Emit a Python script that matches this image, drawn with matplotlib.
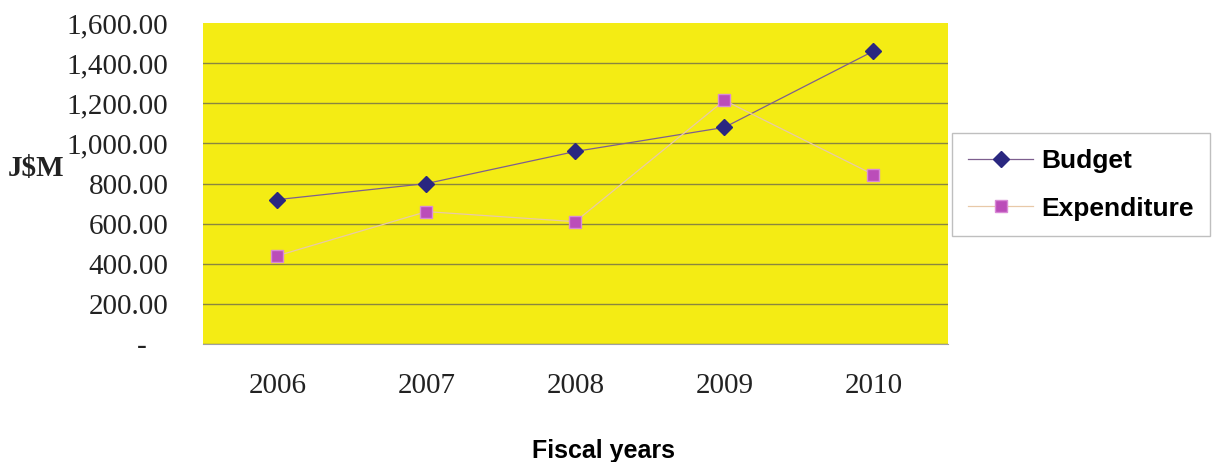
import matplotlib.pyplot as plt
from matplotlib.ticker import FuncFormatter

# fiscal years and amounts in J$ millions
years = ['2006', '2007', '2008', '2009', '2010']
budget = [720, 800, 960, 1080, 1460]
expenditure = [440, 660, 610, 1215, 845]


def money_fmt(v, pos):
    # accounting style: zero shown as a dash
    if v == 0:
        return '-   '
    return '{:,.2f}'.format(v)


fig = plt.figure(figsize=(12.17, 4.62), dpi=100)
ax = fig.add_axes([0.1668, 0.2554, 0.612, 0.6946])
ax.set_facecolor('#f4ec14')

x = range(len(years))
ax.plot(x, budget, color='#7d5f8f', lw=0.9, marker='D', ms=8.5,
        mfc='#2a2780', mec='#2a2780', label='Budget', zorder=3)
ax.plot(x, expenditure, color='#e8c9a8', lw=0.9, marker='s', ms=8,
        mfc='#bb4db9', mec='#d98ad6', label='Expenditure', zorder=3)

ax.set_xlim(-0.5, len(years) - 0.5)
ax.set_ylim(0, 1600)
ax.set_yticks(range(0, 1601, 200))
ax.yaxis.set_major_formatter(FuncFormatter(money_fmt))
ax.set_xticks(list(x))
ax.set_xticklabels(years)
ax.grid(axis='y', color='#8a8640', lw=1)
ax.get_ygridlines()[-1].set_visible(False)
ax.set_axisbelow(True)

for s in ['top', 'right', 'left']:
    ax.spines[s].set_visible(False)
ax.spines['bottom'].set_color('#a0a0a0')
ax.tick_params(axis='y', length=0, pad=25, labelsize=21)
ax.tick_params(axis='x', length=0, pad=21, labelsize=21)
for lab in ax.get_yticklabels() + ax.get_xticklabels():
    lab.set_family('Liberation Serif')
    lab.set_color('#222222')

fig.text(0.006, 0.636, 'J$M', family='Liberation Serif', weight='bold',
         fontsize=21, ha='left', va='center', color='#222222')
fig.text(0.496, 0.024, 'Fiscal years', family='Liberation Sans',
         weight='bold', fontsize=18, ha='center', va='center')

leg = fig.legend(loc='upper left', bbox_to_anchor=(0.782, 0.712),
                 frameon=True, fancybox=False, edgecolor='#b0b0b0',
                 prop={'family': 'Liberation Sans', 'weight': 'bold', 'size': 19},
                 handlelength=2.5, handletextpad=0.3, labelspacing=0.9,
                 borderpad=0.6, borderaxespad=0)
leg.get_frame().set_linewidth(1)

fig.savefig('out.png', dpi=100)
